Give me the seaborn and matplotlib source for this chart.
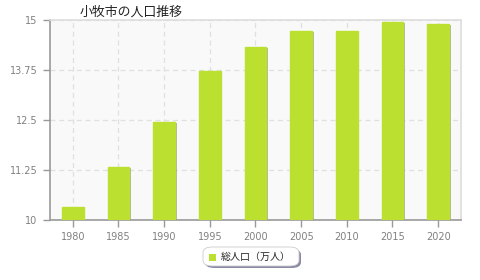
import matplotlib
matplotlib.use("Agg")
import matplotlib.pyplot as plt
import matplotlib.patheffects as pe
import seaborn as sns
import pandas as pd
from matplotlib.patches import FancyBboxPatch, Rectangle

years = ["1980", "1985", "1990", "1995", "2000", "2005", "2010", "2015", "2020"]
population = [10.33, 11.33, 12.45, 13.73, 14.33, 14.73, 14.73, 14.95, 14.89]
yticks = [10, 11.25, 12.5, 13.75, 15]
ytick_labels = ["10", "11.25", "12.5", "13.75", "15"]
title = "小牧市の人口推移"
series_name = "総人口（万人）"

sns.set_theme(style="white")
plt.rcParams['font.family'] = ['Noto Sans CJK JP', 'DejaVu Sans']

df = pd.DataFrame({"year": years, "pop": population})

fig = plt.figure(figsize=(4.8, 2.8), dpi=100)
ax = fig.add_axes([50/480, 60/280, 411/480, 200/280])
ax.set_facecolor("#f9f9f9")

sns.barplot(data=df, x="year", y="pop", color="#bbe02f", saturation=1, width=0.48,
            ax=ax, zorder=3, edgecolor="none")
for p in ax.patches:
    p.set_edgecolor("#bbe02f")
    p.set_path_effects([pe.SimplePatchShadow(offset=(1.2, -0.6), shadow_rgbFace="#8a8a6a", alpha=0.6),
                        pe.Normal()])

ax.set_ylim(10, 15)
ax.set_xlim(-0.5, len(years) - 0.5)
ax.set_yticks(yticks)
ax.set_yticklabels(ytick_labels)
ax.set_xlabel("")
ax.set_ylabel("")

ax.grid(True, axis="both", color="#e0e0e0", linestyle=(0, (4, 3)), linewidth=0.9, zorder=0)
ax.set_axisbelow(True)

for s in ["left", "bottom"]:
    ax.spines[s].set_color("#999999")
    ax.spines[s].set_linewidth(1.2)
for s in ["top", "right"]:
    ax.spines[s].set_color("#dddddd")
    ax.spines[s].set_linewidth(1.2)

ax.tick_params(axis="both", which="both", length=5, width=1, color="#999999",
               labelcolor="#808080", labelsize=7, direction="out",
               left=True, bottom=True, pad=4)
for lbl in ax.get_xticklabels() + ax.get_yticklabels():
    lbl.set_family(["DejaVu Sans"])

fig.text(131/480, 1 - 12/280, title, ha="center", va="center", fontsize=9.3, color="#222222")

shadow = FancyBboxPatch((205/480, 1 - 268/280), 96/480, 19/280,
                        boxstyle="round,pad=0,rounding_size=0.02",
                        transform=fig.transFigure, facecolor="#8a8aa6",
                        edgecolor="none", zorder=1)
fig.patches.append(shadow)
box = FancyBboxPatch((203/480, 1 - 266/280), 96/480, 19/280,
                     boxstyle="round,pad=0,rounding_size=0.02",
                     transform=fig.transFigure, facecolor="white",
                     edgecolor="#cccccc", linewidth=0.6, zorder=2)
fig.patches.append(box)
fig.patches.append(Rectangle((209/480, 1 - 261/280), 7/480, 7/280,
                             transform=fig.transFigure, facecolor="#bbe02f",
                             edgecolor="none", zorder=3))
fig.text(221/480, 1 - 257/280, series_name, ha="left", va="center",
         fontsize=7.2, color="#222222", zorder=4)

fig.savefig("out.png", dpi=100, facecolor="white")
